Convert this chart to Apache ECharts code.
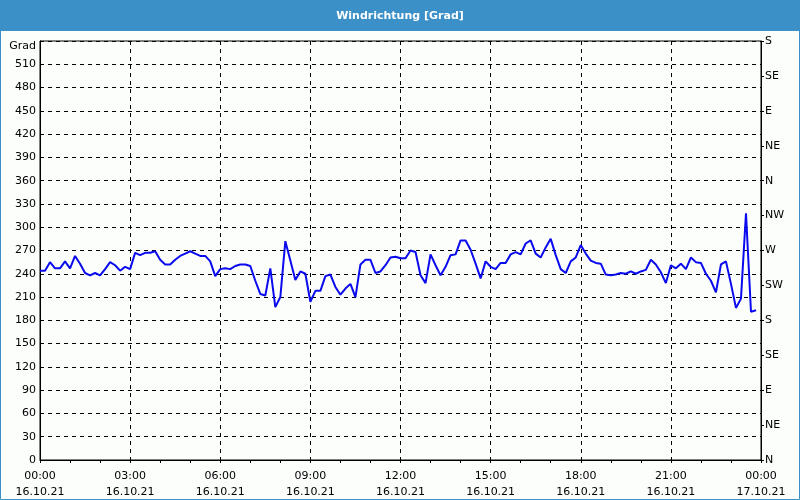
<!DOCTYPE html>
<html>
<head>
<meta charset="utf-8">
<script src="https://cdn.jsdelivr.net/npm/echarts@6/dist/echarts.min.js"></script>
<style>
html,body{margin:0;padding:0;background:#fff;}
#c{width:800px;height:500px;}
</style>
</head>
<body>
<div id="c"></div>
<script>
// Wind direction (degrees), sampled every 10 minutes from 00:00 on 16.10.21
const stepMinutes = 10;
const windDir = [
 244,244,255,247,247,256,247,263,253,241,238,241,238,246,255,251,244,249,246,267,
 264,267,267,269,258,252,252,258,263,266,269,266,263,263,256,237,246,247,246,250,
 252,252,250,231,214,212,247,197,210,282,257,232,243,240,204,218,218,237,239,223,
 213,221,227,210,252,258,258,241,243,251,261,262,260,260,270,268,238,228,265,251,
 238,249,264,265,283,283,271,253,234,256,249,246,254,254,265,268,265,279,283,266,
 261,274,285,264,246,241,256,261,277,266,257,254,253,239,238,239,241,240,243,240,
 243,245,258,252,242,228,251,247,253,246,261,255,254,240,231,216,252,256,227,196,
 208,318,191,193
];
const leftTicks = [0,30,60,90,120,150,180,210,240,270,300,330,360,390,420,450,480,510];
const rightLabels = ['N','NE','E','SE','S','SW','W','NW','N','NE','E','SE','S'];
const timeLabels = ['00:00','03:00','06:00','09:00','12:00','15:00','18:00','21:00','00:00'];
const dateLabels = ['16.10.21','16.10.21','16.10.21','16.10.21','16.10.21','16.10.21','16.10.21','16.10.21','17.10.21'];
const title = 'Windrichtung [Grad]';

const seriesData = windDir.map((v, i) => [i * stepMinutes, v]);
const FONT = 'DejaVu Sans';
const chart = echarts.init(document.getElementById('c'), null, {renderer: 'canvas'});
const dash = {color: '#000', width: 1, type: [4, 4]};

chart.setOption({
  backgroundColor: '#fcfefc',
  animation: false,
  graphic: [
    {type: 'rect', shape: {x: 0, y: 0, width: 800, height: 31}, style: {fill: '#3b90c8'}, z: 0},
    {type: 'rect', shape: {x: 0.5, y: 0.5, width: 799, height: 499}, style: {fill: null, stroke: '#3b90c8', lineWidth: 1}, z: 0},
    {type: 'text', x: 400, y: 16, style: {text: title, fill: '#fff', font: 'bold 11px "DejaVu Sans"', textAlign: 'center', textVerticalAlign: 'middle'}, z: 10}
  ],
  grid: {left: 40, right: 39, top: 41, bottom: 39, show: true, borderColor: '#000', borderWidth: 1, backgroundColor: 'transparent'},
  xAxis: {
    type: 'value', min: 0, max: 1440, interval: 180,
    axisLine: {show: true, lineStyle: {color: '#000', width: 1}},
    axisTick: {show: true, length: 3, lineStyle: {color: '#000'}},
    minorTick: {show: true, splitNumber: 3, length: 3, lineStyle: {color: '#000'}},
    splitLine: {show: true, lineStyle: dash},
    axisLabel: {
      color: '#000', fontFamily: FONT, fontSize: 11, margin: 8, lineHeight: 16,
      formatter: v => { const k = Math.round(v / 180); return timeLabels[k] + '\n' + dateLabels[k]; }
    }
  },
  yAxis: [
    {
      type: 'value', min: 0, max: 540, interval: 30, position: 'left',
      name: 'Grad', nameLocation: 'end', nameGap: -5,
      nameTextStyle: {color: '#000', fontFamily: FONT, fontSize: 11, align: 'right', verticalAlign: 'middle', padding: [0, 4, 0, 0]},
      axisLine: {show: true, lineStyle: {color: '#000'}},
      axisTick: {show: false},
      splitLine: {show: true, lineStyle: dash},
      axisLabel: {color: '#000', fontFamily: FONT, fontSize: 11, margin: 4,
        formatter: v => leftTicks.indexOf(v) >= 0 ? String(v) : ''}
    },
    {
      type: 'value', min: 0, max: 540, interval: 45, position: 'right',
      axisLine: {show: true, lineStyle: {color: '#000'}},
      axisTick: {show: true, length: 3, lineStyle: {color: '#000'}},
      splitLine: {show: false},
      axisLabel: {color: '#000', fontFamily: FONT, fontSize: 11, margin: 4,
        formatter: v => rightLabels[Math.round(v / 45)]}
    }
  ],
  series: [{
    type: 'line', data: seriesData, yAxisIndex: 0, showSymbol: false, symbol: 'none',
    lineStyle: {color: '#0a0aee', width: 2}, z: 5
  }]
});
</script>
</body>
</html>
